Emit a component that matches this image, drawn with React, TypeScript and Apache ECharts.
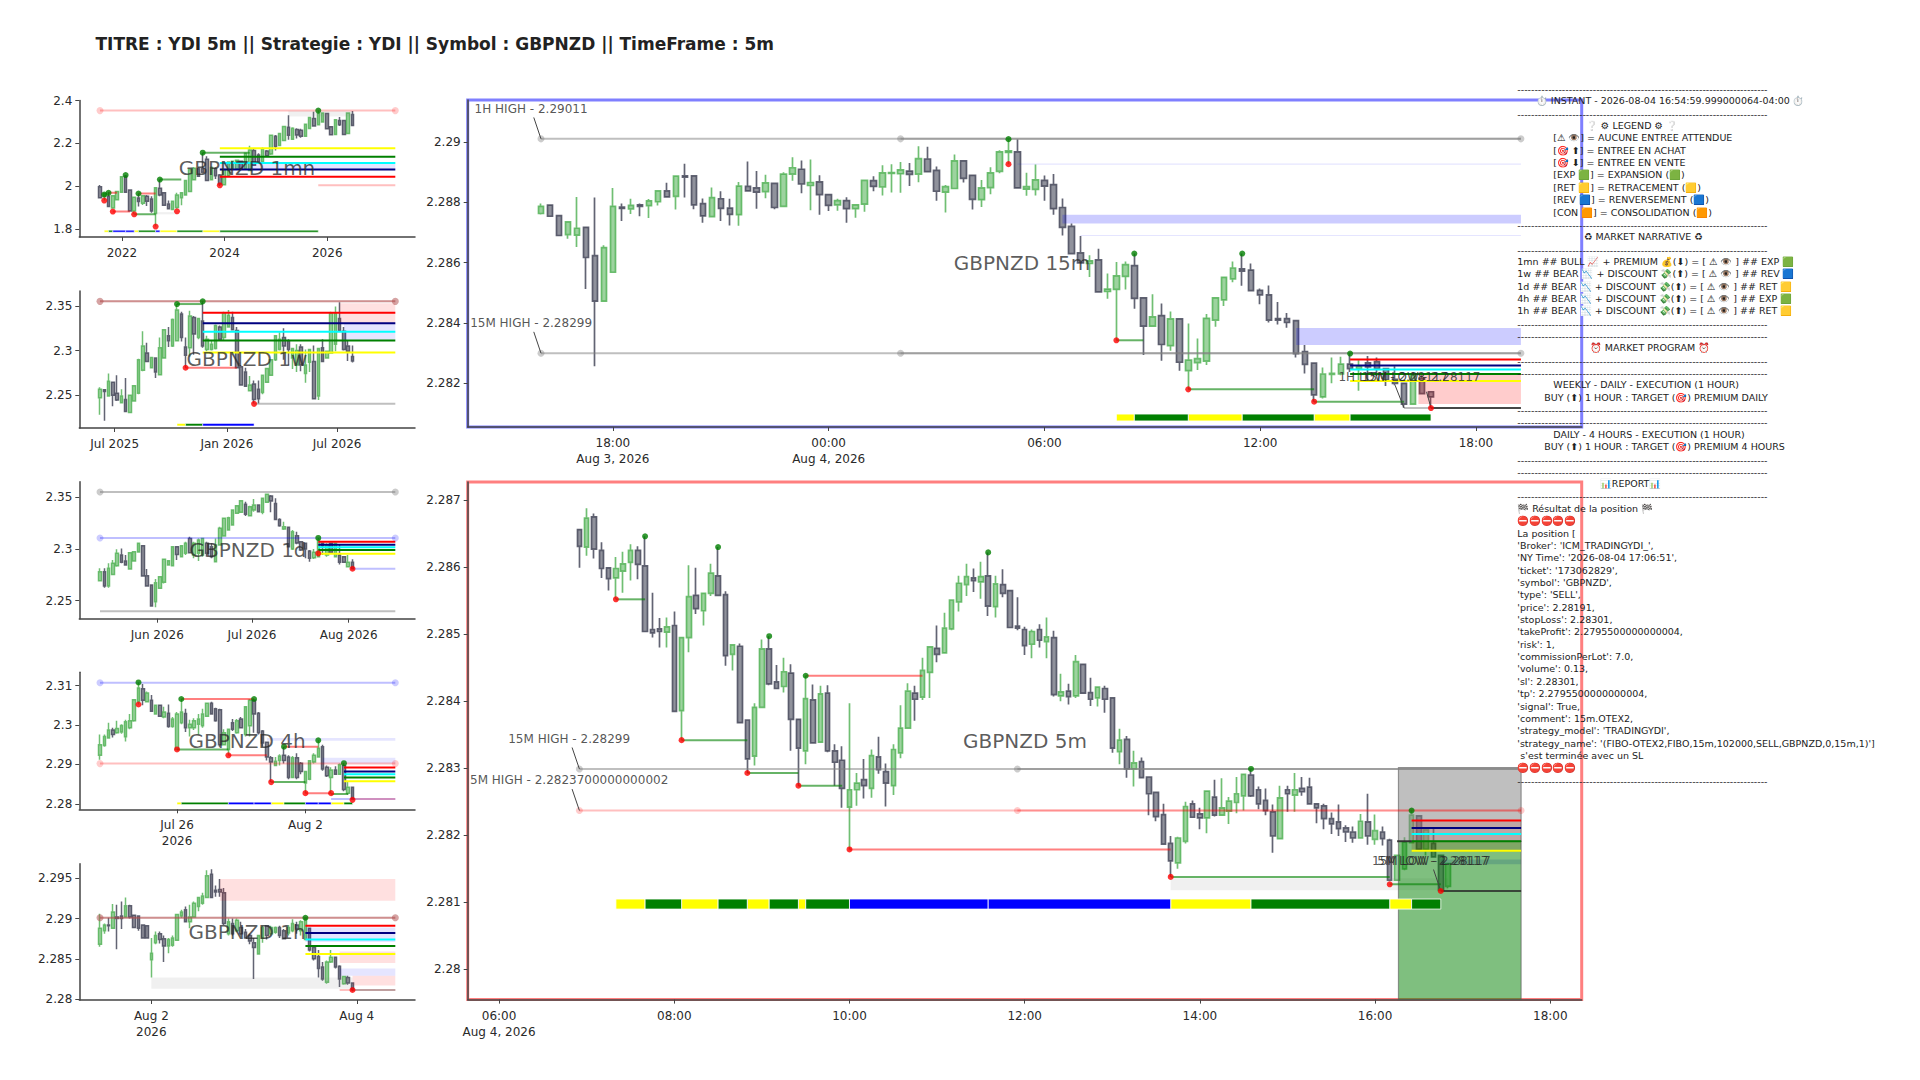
import React, { useEffect, useRef } from "react";
import * as echarts from "echarts";

const TITLE = "TITRE : YDI 5m || Strategie : YDI || Symbol : GBPNZD || TimeFrame : 5m";

// every candle is [open, close, low, high]
const candles1mn = [
[1.999,1.947,1.947,2.007],[1.954,1.967,1.934,1.967],[1.954,1.906,1.906,1.973],[1.899,1.957,1.896,1.960],[1.938,1.976,1.934,1.976],[1.973,2.045,1.973,2.045],[2.047,1.973,1.970,2.053],[1.983,1.886,1.883,1.986],[1.886,1.949,1.870,1.949],[1.946,1.930,1.906,1.967],
[1.922,1.957,1.914,1.960],[1.954,1.931,1.909,1.960],[1.941,1.886,1.877,1.954],[1.874,1.994,1.813,1.994],[1.992,1.960,1.954,2.032],[1.970,1.912,1.909,1.970],[1.918,1.896,1.896,1.934],[1.893,1.931,1.893,1.934],[1.902,1.960,1.896,1.970],[1.947,1.970,1.912,1.970],
[1.960,2.027,1.957,2.031],[1.976,2.079,1.973,2.082],[2.031,2.085,2.028,2.090],[2.082,2.047,2.044,2.088],[2.082,2.066,2.061,2.157],[2.127,2.027,2.024,2.140],[2.031,2.088,2.028,2.093],[2.082,2.050,2.034,2.088],[2.053,2.011,2.002,2.058],[2.008,2.079,2.005,2.082],
[2.050,2.114,2.047,2.117],[2.082,2.117,2.079,2.121],[2.082,2.122,2.079,2.125],[2.117,2.082,2.079,2.121],[2.082,2.154,2.079,2.157],[2.074,2.170,2.071,2.189],[2.167,2.098,2.095,2.175],[2.146,2.114,2.106,2.154],[2.114,2.175,2.111,2.181],[2.165,2.143,2.140,2.170],
[2.151,2.238,2.146,2.240],[2.234,2.186,2.167,2.239],[2.191,2.246,2.188,2.247],[2.214,2.279,2.210,2.283],[2.275,2.238,2.217,2.331],[2.220,2.271,2.217,2.275],[2.265,2.239,2.223,2.271],[2.262,2.233,2.226,2.268],[2.233,2.289,2.230,2.292],[2.270,2.321,2.267,2.324],
[2.316,2.281,2.278,2.348],[2.287,2.339,2.284,2.353],[2.300,2.342,2.297,2.345],[2.339,2.268,2.265,2.342],[2.278,2.241,2.238,2.281],[2.242,2.310,2.239,2.313],[2.307,2.287,2.281,2.323],[2.307,2.242,2.239,2.310],[2.246,2.342,2.243,2.345],[2.335,2.284,2.281,2.351],
];
const candles1w = [
[2.2472,2.2568,2.2280,2.2588],[2.2561,2.2542,2.2214,2.2561],[2.2492,2.2657,2.2492,2.2742],[2.2645,2.2499,2.2376,2.2645],[2.2522,2.2445,2.2434,2.2722],[2.2415,2.2492,2.2407,2.2568],[2.2453,2.2318,2.2318,2.2692],[2.2307,2.2499,2.2299,2.2499],[2.2434,2.2607,2.2426,2.2615],[2.2522,2.2896,2.2511,2.2907],
[2.2780,2.3050,2.2769,2.3215],[2.2973,2.2877,2.2869,2.3088],[2.2807,2.2923,2.2799,2.2930],[2.2915,2.2761,2.2692,2.2915],[2.2730,2.3030,2.2723,2.3146],[2.2915,2.3231,2.2907,2.3242],[2.3165,2.3108,2.3038,2.3262],[2.3050,2.3346,2.3038,2.3358],[2.3108,2.3454,2.3100,2.3520],[2.3408,2.3146,2.3100,2.3435],
[2.3038,2.2946,2.2807,2.3146],[2.3030,2.3385,2.2934,2.3446],[2.3369,2.3184,2.2954,2.3385],[2.3146,2.3358,2.3127,2.3365],[2.3331,2.3050,2.3030,2.3550],[2.3011,2.3127,2.2992,2.3165],[2.3011,2.3069,2.3000,2.3108],[2.3023,2.3281,2.3011,2.3292],[2.3262,2.3127,2.3115,2.3281],[2.3146,2.3423,2.3108,2.3435],
[2.3262,2.3396,2.3254,2.3454],[2.3369,2.3231,2.3223,2.3435],[2.3223,2.2807,2.2807,2.3262],[2.2819,2.2615,2.2615,2.2838],[2.2761,2.2599,2.2592,2.2807],[2.2549,2.2615,2.2541,2.2715],[2.2626,2.2453,2.2407,2.2665],[2.2568,2.2461,2.2407,2.2665],[2.2530,2.2722,2.2511,2.2730],[2.2645,2.2799,2.2638,2.2807],
[2.2722,2.2896,2.2715,2.2903],[2.2896,2.3165,2.2884,2.3173],[2.3011,2.3127,2.3000,2.3204],[2.3146,2.3050,2.2896,2.3250],[2.3108,2.3011,2.2838,2.3127],[2.2915,2.3023,2.2792,2.3030],[2.2838,2.3000,2.2761,2.3069],[2.3038,2.2838,2.2769,2.3069],[2.2742,2.2838,2.2638,2.3011],[2.2869,2.3011,2.2761,2.3019],
[2.2877,2.2461,2.2453,2.3057],[2.2492,2.3023,2.2445,2.3030],[2.3030,2.2877,2.2869,2.3127],[2.2915,2.2992,2.2907,2.3000],[2.2973,2.3416,2.2973,2.3435],[2.3069,2.3416,2.2992,2.3492],[2.3358,2.3223,2.3215,2.3539],[2.3215,2.3011,2.3000,2.3262],[2.3050,2.2992,2.2884,2.3108],[2.2934,2.2884,2.2865,2.3057],
];
const candles1d = [
[2.2692,2.2779,2.2689,2.2812],[2.2779,2.2640,2.2624,2.2812],[2.2640,2.2812,2.2624,2.2860],[2.2753,2.2860,2.2747,2.2892],[2.2837,2.2957,2.2828,2.2996],[2.2941,2.2870,2.2860,2.3005],[2.2883,2.2844,2.2837,2.2941],[2.2805,2.2963,2.2805,2.2967],[2.2883,2.2973,2.2876,2.2973],[2.2970,2.3054,2.2963,2.3060],
[2.3031,2.2737,2.2731,2.3038],[2.2741,2.2640,2.2634,2.2805],[2.2650,2.2447,2.2440,2.2650],[2.2489,2.2673,2.2434,2.2708],[2.2618,2.2731,2.2611,2.2737],[2.2676,2.2899,2.2666,2.2902],[2.2844,2.2886,2.2837,2.2892],[2.2837,2.3022,2.2831,2.3028],[2.3022,2.2947,2.2892,2.3028],[2.2925,2.3031,2.2918,2.3038],
[2.2957,2.3054,2.2941,2.3070],[2.3102,2.2963,2.2957,2.3118],[2.2941,2.3054,2.2909,2.3070],[2.2957,2.3086,2.2883,2.3102],[2.2941,2.3102,2.2925,2.3109],[2.3054,2.2957,2.2925,2.3070],[2.3022,2.2925,2.2909,2.3054],[2.2876,2.3038,2.2870,2.3102],[2.3038,2.3199,2.3031,2.3215],[2.3125,2.3296,2.3118,2.3303],
[2.3183,2.3303,2.3177,2.3312],[2.3232,2.3377,2.3225,2.3383],[2.3345,2.3419,2.3338,2.3425],[2.3354,2.3467,2.3348,2.3474],[2.3432,2.3335,2.3319,2.3458],[2.3322,2.3409,2.3315,2.3419],[2.3377,2.3425,2.3361,2.3483],[2.3425,2.3361,2.3354,2.3432],[2.3354,2.3490,2.3335,2.3496],[2.3451,2.3529,2.3445,2.3532],
[2.3513,2.3464,2.3354,2.3522],[2.3441,2.3286,2.3280,2.3490],[2.3286,2.3225,2.3215,2.3296],[2.3193,2.3215,2.3183,2.3264],[2.3209,2.3022,2.3015,2.3209],[2.2999,2.3167,2.2989,2.3183],[2.3128,2.3057,2.3044,2.3167],[2.3070,2.2989,2.2980,2.3076],[2.3054,2.2999,2.2909,2.3060],[2.2980,2.2909,2.2876,2.2989],
[2.2915,2.2967,2.2902,2.2999],[2.2925,2.3086,2.2925,2.3106],[2.3054,2.3031,2.2941,2.3060],[2.2941,2.3038,2.2925,2.3054],[2.3054,2.2967,2.2957,2.3054],[2.2925,2.3054,2.2918,2.3060],[2.2941,2.2870,2.2850,2.3038],[2.2925,2.2870,2.2863,2.2931],[2.2828,2.2870,2.2825,2.2941],[2.2870,2.2808,2.2802,2.2899],
];
const candles4h = [
[2.2923,2.2950,2.2912,2.2976],[2.2948,2.2971,2.2945,2.2976],[2.2967,2.2987,2.2965,2.3006],[2.2987,2.2976,2.2968,2.2993],[2.2980,2.2991,2.2978,2.3011],[2.2982,2.2999,2.2978,2.3002],[2.2970,2.3008,2.2958,2.3013],[2.2993,2.3011,2.2989,2.3028],[2.3011,2.3064,2.3008,2.3066],[2.3059,2.3094,2.3052,2.3108],
[2.3092,2.3063,2.3050,2.3104],[2.3059,2.3081,2.3057,2.3085],[2.3063,2.3035,2.3033,2.3076],[2.3028,2.3050,2.3026,2.3052],[2.3050,2.3022,2.3020,2.3052],[2.3020,2.3033,2.3017,2.3046],[2.3030,2.2996,2.2993,2.3052],[2.2996,2.3015,2.2993,2.3020],[2.2938,2.3028,2.2936,2.3033],[2.3006,2.3033,2.3002,2.3066],
[2.3029,2.2993,2.2982,2.3041],[2.2993,2.3002,2.2971,2.3013],[2.2993,2.3011,2.2987,2.3017],[2.3002,2.3015,2.2976,2.3028],[2.2998,2.3028,2.2993,2.3041],[2.3022,2.3055,2.3020,2.3056],[2.3055,2.3028,2.3026,2.3059],[2.3041,2.3011,2.3008,2.3044],[2.3039,2.2950,2.2945,2.3041],[2.2950,2.2980,2.2948,2.2989],
[2.2938,2.2989,2.2923,2.2991],[2.3006,2.2989,2.2985,2.3015],[2.2980,2.3011,2.2978,2.3015],[2.3015,2.2993,2.2991,2.3020],[2.2976,2.3046,2.2971,2.3048],[2.2998,2.3063,2.2971,2.3066],[2.3063,2.3028,2.2980,2.3066],[2.3030,2.2980,2.2976,2.3033],[2.2985,2.2954,2.2945,2.2987],[2.2956,2.2919,2.2910,2.2958],
[2.2917,2.2906,2.2855,2.2921],[2.2897,2.2908,2.2895,2.2919],[2.2910,2.2921,2.2897,2.2926],[2.2923,2.2910,2.2902,2.2945],[2.2919,2.2867,2.2862,2.2923],[2.2867,2.2917,2.2865,2.2921],[2.2917,2.2867,2.2862,2.2928],[2.2903,2.2882,2.2875,2.2906],[2.2853,2.2882,2.2827,2.2882],[2.2862,2.2909,2.2860,2.2910],
[2.2906,2.2923,2.2902,2.2928],[2.2919,2.2941,2.2917,2.2961],[2.2945,2.2888,2.2884,2.2950],[2.2893,2.2871,2.2868,2.2897],[2.2867,2.2886,2.2827,2.2893],[2.2886,2.2875,2.2873,2.2895],[2.2875,2.2899,2.2874,2.2902],[2.2897,2.2836,2.2832,2.2903],[2.2827,2.2842,2.2823,2.2858],[2.2842,2.2812,2.2810,2.2842],
];
const candles1h = [
[2.2868,2.2888,2.2865,2.2906],[2.2885,2.2892,2.2881,2.2894],[2.2892,2.2891,2.2884,2.2901],[2.2888,2.2908,2.2887,2.2918],[2.2902,2.2900,2.2862,2.2917],[2.2903,2.2900,2.2887,2.2921],[2.2902,2.2916,2.2901,2.2926],[2.2916,2.2902,2.2900,2.2917],[2.2904,2.2889,2.2888,2.2905],[2.2903,2.2888,2.2885,2.2904],
[2.2892,2.2876,2.2875,2.2893],[2.2891,2.2876,2.2875,2.2892],[2.2849,2.2857,2.2827,2.2876],[2.2870,2.2879,2.2868,2.2884],[2.2881,2.2874,2.2869,2.2884],[2.2875,2.2866,2.2846,2.2879],[2.2866,2.2874,2.2857,2.2876],[2.2867,2.2876,2.2865,2.2879],[2.2873,2.2905,2.2872,2.2906],[2.2903,2.2908,2.2901,2.2911],
[2.2911,2.2896,2.2896,2.2915],[2.2896,2.2902,2.2888,2.2917],[2.2902,2.2919,2.2901,2.2921],[2.2915,2.2926,2.2909,2.2926],[2.2919,2.2928,2.2917,2.2932],[2.2926,2.2953,2.2926,2.2960],[2.2955,2.2926,2.2926,2.2961],[2.2935,2.2933,2.2927,2.2941],[2.2936,2.2933,2.2927,2.2949],[2.2932,2.2894,2.2892,2.2938],
[2.2881,2.2896,2.2879,2.2900],[2.2894,2.2881,2.2879,2.2900],[2.2885,2.2898,2.2883,2.2900],[2.2889,2.2881,2.2879,2.2896],[2.2883,2.2876,2.2875,2.2887],[2.2879,2.2872,2.2868,2.2881],[2.2870,2.2864,2.2825,2.2876],[2.2856,2.2879,2.2855,2.2879],[2.2876,2.2889,2.2870,2.2891],[2.2891,2.2879,2.2874,2.2892],
[2.2881,2.2889,2.2879,2.2891],[2.2883,2.2889,2.2881,2.2890],[2.2889,2.2879,2.2876,2.2891],[2.2885,2.2875,2.2874,2.2887],[2.2882,2.2889,2.2879,2.2892],[2.2885,2.2894,2.2883,2.2899],[2.2892,2.2887,2.2881,2.2896],[2.2885,2.2896,2.2879,2.2898],[2.2874,2.2900,2.2873,2.2901],[2.2888,2.2861,2.2859,2.2889],
[2.2864,2.2850,2.2848,2.2866],[2.2853,2.2838,2.2827,2.2861],[2.2840,2.2825,2.2823,2.2846],[2.2821,2.2846,2.2819,2.2848],[2.2846,2.2852,2.2845,2.2861],[2.2852,2.2840,2.2838,2.2853],[2.2841,2.2825,2.2815,2.2842],[2.2819,2.2828,2.2818,2.2829],[2.2827,2.2820,2.2818,2.2829],[2.2820,2.2812,2.2810,2.2821],
];
const POINT = 0.00001; // the two large panels list prices in points
const candles15m = [
[228763,228787,228760,228796],[228791,228754,228752,228791],[228756,228690,228690,228756],[228693,228735,228679,228735],[228691,228714,228652,228818],[228717,228617,228512,228717],[228623,228472,228256,228816],[228472,228650,228472,228658],[228568,228787,228568,228848],[228784,228780,228738,228796],
[228778,228790,228761,228812],[228792,228787,228754,228796],[228789,228805,228748,228811],[228802,228838,228790,228841],[228838,228818,228816,228865],[228820,228887,228776,228889],[228888,228884,228816,228928],[228888,228792,228777,228888],[228796,228755,228732,228813],[228753,228816,228752,228849],
[228812,228780,228738,228837],[228781,228760,228723,228812],[228759,228854,228722,228868],[228853,228838,228836,228936],[228848,228834,228779,228904],[228836,228865,228814,228892],[228863,228783,228777,228865],[228787,228894,228785,228900],[228894,228915,228872,228950],[228910,228861,228830,228939],
[228856,228866,228774,228942],[228868,228826,228759,228890],[228826,228790,228771,228826],[228792,228806,228772,228812],[228806,228779,228732,228817],[228779,228792,228749,228794],[228794,228873,228769,228876],[228872,228853,228837,228887],[228851,228898,228823,228923],[228896,228899,228833,228927],
[228895,228908,228832,228934],[228904,228893,228854,228931],[228894,228945,228867,228986],[228944,228902,228899,228985],[228906,228837,228805,228919],[228834,228852,228766,228858],[228846,228938,228845,228959],[228938,228880,228866,228938],[228890,228810,228776,228890],[228809,228848,228785,228874],
[228849,228898,228827,228917],[228903,228968,228897,228973],[228966,228971,228927,229010],[228968,228848,228846,229010],[228844,228852,228822,228898],[228843,228875,228823,228926],[228873,228854,228805,228889],[228859,228779,228759,228894],[228783,228717,228690,228813],[228720,228630,228628,228730],
[228632,228599,228597,228688],[228597,228606,228552,228624],[228609,228503,228503,228646],[228504,228512,228480,228564],[228511,228556,228342,228602],[228554,228593,228511,228604],[228590,228481,228447,228630],[228483,228389,228293,228483],[228389,228420,228389,228495],[228424,228328,228274,228464],
[228324,228413,228307,228438],[228413,228269,228241,228413],[228241,228276,228179,228398],[228268,228281,228243,228348],[228273,228415,228260,228429],[228409,228483,228387,228483],[228476,228551,228456,228551],[228546,228582,228535,228604],[228579,228572,228523,228630],[228575,228507,228505,228597],
[228508,228493,228462,228514],[228493,228409,228401,228524],[228414,228409,228394,228469],[228414,228401,228384,228433],[228407,228298,228285,228407],[228304,228262,228232,228326],[228266,228161,228138,228266],[228154,228230,228149,228252],[228229,228232,228199,228285],[228230,228263,228226,228287],
[228263,228248,228237,228298],[228248,228256,228174,228276],[228267,228254,228210,228290],[228271,228248,228223,228285],[228248,228210,228190,228248],[228212,228199,228193,228256],[228199,228130,228119,228199],[228130,228226,228127,228232],[228215,228165,228163,228226],[228171,228154,228117,228171],
];
const candles5m = [
[228656,228631,228599,228656],[228630,228673,228617,228688],[228675,228627,228613,228680],[228625,228598,228584,228637],[228599,228583,228565,228599],[228584,228598,228552,228615],[228594,228605,228562,228623],[228607,228625,228580,228634],[228625,228604,228582,228631],[228602,228504,228503,228646],
[228507,228502,228495,228562],[228508,228504,228480,228524],[228503,228511,228480,228525],[228513,228385,228384,228534],[228386,228495,228342,228495],[228495,228556,228473,228603],[228558,228538,228530,228599],[228535,228561,228513,228561],[228561,228591,228557,228605],[228587,228558,228558,228630],
[228559,228468,228453,228564],[228470,228484,228446,228484],[228482,228368,228367,228486],[228372,228314,228293,228372],[228318,228391,228304,228397],[228391,228478,228390,228492],[228478,228426,228424,228497],[228429,228419,228418,228454],[228422,228444,228413,228465],[228442,228373,228326,228455],
[228373,228330,228274,228373],[228326,228404,228306,228438],[228402,228338,228337,228425],[228339,228411,228338,228423],[228412,228326,228324,228424],[228326,228309,228274,228336],[228312,228270,228241,228333],[228242,228268,228179,228397],[228268,228278,228244,228293],[228283,228274,228255,228314],
[228270,228319,228256,228328],[228317,228298,228292,228347],[228295,228278,228243,228307],[228274,228328,228260,228336],[228323,228360,228315,228394],[228360,228415,228359,228427],[228412,228403,228371,228423],[228406,228446,228402,228465],[228443,228481,228405,228481],[228479,228470,228458,228513],
[228472,228509,228471,228532],[228508,228551,228506,228551],[228548,228576,228534,228587],[228574,228586,228557,228605],[228584,228580,228563,228598],[228578,228586,228553,228608],[228587,228542,228527,228622],[228541,228575,228525,228587],[228574,228561,228555,228597],[228565,228510,228509,228565],
[228512,228509,228506,228555],[228507,228483,228469,228511],[228485,228504,228464,228507],[228507,228491,228480,228515],[228489,228496,228464,228525],[228495,228410,228407,228505],[228408,228414,228400,228441],[228415,228407,228395,228426],[228408,228459,228405,228469],[228455,228412,228411,228455],
[228413,228403,228393,228435],[228405,228421,228392,228422],[228419,228403,228383,228423],[228405,228330,228323,228405],[228325,228342,228306,228359],[228343,228299,228286,228348],[228299,228308,228273,228326],[228310,228286,228285,228316],[228287,228262,228230,228287],[228264,228228,228221,228264],
[228231,228187,228186,228247],[228188,228162,228138,228199],[228159,228196,228150,228198],[228191,228243,228188,228250],[228247,228227,228226,228252],[228232,228226,228209,228241],[228226,228266,228203,228267],[228257,228230,228228,228283],[228230,228241,228229,228285],[228236,228251,228217,228257],
[228249,228262,228233,228287],[228259,228291,228237,228292],[228290,228259,228257,228299],[228268,228247,228239,228273],[228252,228237,228230,228270],[228235,228199,228174,228246],[228195,228256,228195,228274],[228268,228262,228235,228274],[228260,228268,228235,228293],[228270,228265,228259,228287],
[228272,228247,228246,228286],[228247,228241,228218,228247],[228244,228225,228209,228247],[228225,228217,228202,228234],[228220,228210,228199,228246],[228211,228205,228190,228215],[228205,228196,228189,228213],[228196,228221,228195,228232],[228220,228199,228186,228262],[228194,228207,228186,228231],
[228205,228195,228185,228213],[228193,228133,228132,228195],[228133,228170,228133,228170],[228150,228190,228148,228197],[228189,228230,228188,228237],[228229,228179,228178,228230],[228179,228208,228170,228208],[228188,228168,228167,228210],[228170,228118,228117,228170],[228124,228158,228121,228158],
];

// levels: [kind, price, from bar, to bar]
const levels1mn = [["pink",2.353,0,69],["yellow",2.178,28,69],["green",2.138,28,69],["cyan",2.109,28,69],["navy",2.079,28,69],["red",2.045,28,69],["pink",2.005,51,69],["linkRed",1.970,2,4],["linkRed",1.883,3,7],["linkGreen",1.870,8,13],["linkRed",1.967,9,13],["linkGreen",2.032,14,19],["linkGreen",2.157,24,35]];
const levels1w = [["gray",2.355,0,69],["pink",2.355,0,69],["red",2.3423,24,69],["navy",2.3304,24,69],["cyan",2.3211,24,69],["green",2.3111,24,69],["yellow",2.2977,24,69],["gray",2.2403,36,69],["linkGreen",2.352,18,24],["linkRed",2.2807,20,32]];
const levels1d = [["gray",2.3551,0,69],["lav",2.3106,0,69],["gray",2.2395,0,69],["red",2.307,51,69],["navy",2.3041,51,69],["cyan",2.3015,51,69],["green",2.2989,51,69],["yellow",2.2954,51,69],["lav",2.2808,59,69]];
const levels4h = [["lav",2.3107,0,69],["pink",2.2902,0,69],["red",2.2892,57,69],["navy",2.2882,57,69],["cyan",2.2875,57,69],["green",2.2867,57,69],["yellow",2.2857,57,69],["lav",2.2812,54,69],["pink",2.2812,59,69],["linkRed",2.3066,19,36],["linkGreen",2.2938,18,30],["linkRed",2.2923,30,39],["linkGreen",2.2855,40,48],["linkRed",2.2945,43,51],["linkRed",2.2827,48,54],["linkGreen",2.2825,54,58]];
const levels1h = [["gray",2.2901,0,69],["pink",2.2901,0,69],["red",2.2891,48,69],["navy",2.2882,48,69],["cyan",2.2874,48,69],["green",2.2866,48,69],["yellow",2.2856,48,69],["pink",2.28114,56,69],["gray",2.28114,59,69]];
const levels15m = [["gray",2.29011,0,109],["gray",2.29011,40,109],["gray",2.28299,0,109],["gray",2.28299,40,109],["red",2.28278,90,109],["navy",2.28258,90,109],["cyan",2.28245,90,109],["green",2.2823,90,109],["yellow",2.28207,90,109],["gray",2.28117,96,109],["dark",2.28117,99,109],["linkGreen",2.28342,64,67],["linkGreen",2.28179,72,86],["linkGreen",2.28138,86,96]];
const levels5m = [["gray",2.28299,0,129],["gray",2.28299,60,129],["pink",2.28237,0,129],["pink",2.28237,60,129],["red",2.28222,114,129],["navy",2.28211,114,129],["cyan",2.28202,114,129],["green",2.28191,114,129],["yellow",2.28177,114,129],["dark",2.28117,118,129],["dark",2.28191,112,114],["linkGreen",2.28552,5,9],["linkGreen",2.28342,14,23],["linkGreen",2.28293,23,30],["linkGreen",2.28274,30,36],["linkGreen",2.28138,81,111],["linkGreen",2.28127,111,118],["linkRed",2.28438,31,47],["linkRed",2.28179,37,81]];

// level end dots: [kind, price, bar]
const dots1mn = [["pink",2.353,0],["pink",2.353,69]];
const dots1w = [["gray",2.355,0],["pink",2.355,0],["gray",2.355,69],["pink",2.355,69]];
const dots1d = [["gray",2.3551,0],["gray",2.3551,69],["lav",2.3106,0],["lav",2.3106,69]];
const dots4h = [["lav",2.3107,0],["lav",2.3107,69],["pink",2.2902,0],["pink",2.2902,69]];
const dots1h = [["gray",2.2901,0],["pink",2.2901,0],["gray",2.2901,69],["pink",2.2901,69]];
const dots15m = [["gray",2.29011,0],["gray",2.29011,40],["gray",2.29011,109],["gray",2.28299,0],["gray",2.28299,40],["gray",2.28299,109]];
const dots5m = [["gray",2.28299,0],["gray",2.28299,60],["pink",2.28237,0],["pink",2.28237,60],["pink",2.28237,129]];

// zones: [kind, from bar, to bar, low, high]
const zones1mn = [["lav",28,69,2.079,2.104],["grey",44,59,2.326,2.352],["grey",13,18,1.87,1.88]];
const zones1w = [["pink",56,69,2.3307,2.353],["lav",57,69,2.3115,2.3307]];
const zones1d: any[] = [];
const zones4h = [["lav",39,69,2.296,2.2967],["lav",52,69,2.2902,2.2917]];
const zones1h = [["pink",28,69,2.2922,2.2949],["grey",12,59,2.2813,2.2827],["lav",48,69,2.2871,2.2889],["pink",56,69,2.2845,2.2859],["lav",56,69,2.2829,2.2838],["pink",59,69,2.2817,2.2829]];
const zones15m = [["lavStrong",58,109,2.2873,2.28759],["lav",60,109,2.28688,2.28692],["lav",53,109,2.28925,2.28929],["lavStrong",84,109,2.28326,2.28383],["pinkStrong",97.6,109,2.2813,2.2823]];
const zones5m = [["grey",81,119,2.28118,2.28136],["pinkStrong",114,129,2.28175,2.28222],["lavStrong",118,129,2.28157,2.28164],["sl",112.2,129,2.28191,2.28301],["tp",112.2,129,2.27955,2.28191]];

// trend strip: [kind, from bar, to bar]
const strip1mn = [["yellow",1,2],["green",2,3],["blue",3,6],["blue",6,8],["yellow",8,9],["green",9,13],["blue",13,14],["yellow",14,18],["green",18,24],["yellow",24,28],["green",28,51]];
const strip1w = [["yellow",18,20],["green",20,24],["blue",24,36]];
const strip1d: any[] = [];
const strip4h = [["yellow",18,19],["green",19,30],["blue",30,36],["blue",36,40],["yellow",40,43],["green",43,48],["blue",48,51],["blue",51,54],["yellow",54,57],["green",57,59]];
const strip1h: any[] = [];
const strip15m = [["yellow",64,66],["green",66,72],["yellow",72,78],["green",78,86],["yellow",86,90],["green",90,99]];
const strip5m = [["yellow",5,9],["green",9,14],["yellow",14,19],["green",19,23],["yellow",23,26],["green",26,30],["yellow",30,31],["green",31,37],["blue",37,56],["blue",56,81],["yellow",81,92],["green",92,111],["yellow",111,114],["green",114,118]];
const bands = { m1: [1.787, 1.796], w1: [2.2156, 2.2183], d1: [2.23, 2.231], h4: [2.2798, 2.2804], h1: [2.28, 2.2801], m15: [2.28074, 2.28097], m5: [2.2809, 2.28105] };

// swing points: [bar, price]
const highs1mn = [[1,1.962],[2,1.970],[6,2.053],[9,1.967],[14,2.032],[24,2.157],[51,2.353]];
const lows1mn = [[1,1.934],[3,1.883],[8,1.870],[13,1.813],[18,1.884],[28,2.005]];
const highs1w = [[18,2.352],[24,2.355]];
const lows1w = [[20,2.2807],[36,2.2403]];
const highs1d = [[51,2.3106]];
const lows1d = [[51,2.2957],[59,2.2808]];
const highs4h = [[9,2.3108],[19,2.3066],[36,2.3066],[43,2.2945],[51,2.2961],[57,2.2903]];
const lows4h = [[9,2.3052],[18,2.2938],[30,2.2923],[40,2.2855],[48,2.2827],[54,2.2827],[59,2.281]];
const highs1h = [[48,2.2901]];
const lows1h = [[59,2.28114]];
const highs15m = [[52,2.2901],[66,2.2863],[78,2.2863],[90,2.28298]];
const lows15m = [[52,2.28927],[64,2.28342],[72,2.28179],[86,2.28138],[99,2.28117]];
const highs5m = [[9,2.28646],[19,2.2863],[26,2.28497],[31,2.28438],[56,2.28622],[92,2.28299],[114,2.28237]];
const lows5m = [[5,2.28552],[14,2.28342],[23,2.28293],[30,2.28274],[37,2.28179],[81,2.28138],[111,2.28127],[118,2.28117]];

// annotations: [text, bar, price] and their leaders: [bar, price, bar, price]
const notes15m = [["1H HIGH - 2.29011",-1.1,2.29111],["15M HIGH - 2.28299",-1.1,2.284],["1H LOW - 2.28117",94.8,2.28219],["15M LOW - 2.28117",97.9,2.28219]];
const leaders15m = [[-0.8,2.29082,0,2.29011],[-0.8,2.2837,0,2.28299],[95,2.28193,96,2.28117],[98.5,2.28171,99,2.28117]];
const notes5m = [["15M HIGH - 2.28299",-1.4,2.28344],["5M HIGH - 2.2823700000000002",-1.4,2.28283],["15M LOW - 2.28117",116.7,2.28161],["5M LOW - 2.28117",116.9,2.28161]];
const leaders5m = [[-1,2.28331,0,2.28299],[-1,2.28269,0,2.28237],[117,2.28149,118,2.28117]];

const xTicks1mn = [5.14,29.1,53.1]; const xLabels1mn = ["2022","2024","2026"];
const xTicks1w = [3.43,29.65,55.4]; const xLabels1w = ["Jul 2025","Jan 2026","Jul 2026"];
const xTicks1d = [13.4,35.5,58.1]; const xLabels1d = ["Jun 2026","Jul 2026","Aug 2026"];
const xTicks4h = [18,48]; const xLabels4h = ["Jul 26\n2026","Aug 2"];
const xTicks1h = [12,60]; const xLabels1h = ["Aug 2\n2026","Aug 4"];
const xTicks15m = [8,32,56,80,104]; const xLabels15m = ["18:00\nAug 3, 2026","00:00\nAug 4, 2026","06:00","12:00","18:00"];
const xTicks5m = [-11,13,37,61,85,109,133]; const xLabels5m = ["06:00\nAug 4, 2026","08:00","10:00","12:00","14:00","16:00","18:00"];
const yTicks1mn = [1.8,2,2.2,2.4];
const yTicks1w = [2.25,2.3,2.35];
const yTicks1d = [2.25,2.3,2.35];
const yTicks4h = [2.28,2.29,2.3,2.31];
const yTicks1h = [2.28,2.285,2.29,2.295];
const yTicks15m = [2.282,2.284,2.286,2.288,2.29];
const yTicks5m = [2.28,2.281,2.282,2.283,2.284,2.285,2.286,2.287];

const DASH = "-".repeat(73);
const STOP = "⛔⛔⛔⛔⛔";
const legendTexts = [
DASH,"⏱ INSTANT - 2026-08-04 16:54:59.999000064-04:00 ⏱",DASH,"❔ ⚙ LEGEND ⚙ ❔","[⚠ 👁] = AUCUNE ENTREE ATTENDUE","[🎯 ⬆] = ENTREE EN ACHAT","[🎯 ⬇] = ENTREE EN VENTE","[EXP 🟩] = EXPANSION (🟩)","[RET 🟨] = RETRACEMENT (🟨)","[REV 🟦] = RENVERSEMENT (🟦)","[CON 🟧] = CONSOLIDATION (🟧)",DASH,"♻ MARKET NARRATIVE ♻",DASH,
"1mn ## BULL 📈 + PREMIUM 💰(⬇) = [ ⚠ 👁 ] ## EXP 🟩","1w ## BEAR 📉 + DISCOUNT 💸(⬆) = [ ⚠ 👁 ] ## REV 🟦","1d ## BEAR 📉 + DISCOUNT 💸(⬆) = [ ⚠ 👁 ] ## RET 🟨","4h ## BEAR 📉 + DISCOUNT 💸(⬆) = [ ⚠ 👁 ] ## EXP 🟩","1h ## BEAR 📉 + DISCOUNT 💸(⬆) = [ ⚠ 👁 ] ## RET 🟨",DASH,DASH,"⏰ MARKET PROGRAM ⏰",DASH,DASH,
"WEEKLY - DAILY - EXECUTION (1 HOUR)","BUY (⬆) 1 HOUR : TARGET (🎯) PREMIUM DAILY",DASH,DASH,"DAILY - 4 HOURS - EXECUTION (1 HOUR)","BUY (⬆) 1 HOUR : TARGET (🎯) PREMIUM 4 HOURS",DASH,DASH,"📊REPORT📊",DASH,
"🏁 Résultat de la position 🏁",STOP,"La position [","'Broker': 'ICM_TRADINGYDI_',","'NY Time': '2026-08-04 17:06:51',","'ticket': '173062829',","'symbol': 'GBPNZD',","'type': 'SELL',","'price': 2.28191,","'stopLoss': 2.28301,","'takeProfit': 2.2795500000000004,","'risk': 1,","'commissionPerLot': 7.0,","'volume': 0.13,","'sl': 2.28301,","'tp': 2.2795500000000004,","'signal': True,","'comment': 15m.OTEX2,","'strategy_model': 'TRADINGYDI',","'strategy_name': '(FIBO-OTEX2,FIBO,15m,102000,SELL,GBPNZD,0,15m,1)']"," s'est terminée avec un SL",STOP,DASH,
];
const legendY = [89,100.7,114.3,125.7,137.7,150.7,162.7,174.7,187.7,199.7,212.7,225,236.7,250,261.7,273.7,286.7,298.7,310.7,324.3,336.3,347.7,361.3,373.3,384.7,397.7,410,422,434.7,446.7,460,472,483.7,496.7,508.7,520.7,533.7,545.7,557.7,570.3,582.7,594.7,607.3,619.7,631.7,644.7,656.7,668.7,681.7,693.7,706.7,718.7,730.7,743.7,755.7,767.7,781];
const legendX = [1517.3,1536,1517.3,1586,1553.3,1553.3,1553.3,1553.3,1553.3,1553.3,1553.3,1517.3,1584,1517.3,1517.3,1517.3,1517.3,1517.3,1517.3,1517.3,1517.3,1590,1517.3,1517.3,1553.3,1544.3,1517.3,1517.3,1553.3,1544.3,1517.3,1517.3,1600,1517.3].concat(new Array(23).fill(1517.3));

const FONT = "'DejaVu Sans', 'Noto Color Emoji', 'Noto Sans CJK SC', sans-serif";
const LINE: any = {
  red: ["#ff0000", 2], navy: ["#000080", 2], cyan: ["#00ffff", 2], green: ["#008000", 2], yellow: ["#ffff00", 2],
  gray: ["rgba(128,128,128,0.5)", 2], pink: ["rgba(255,0,0,0.25)", 2], lav: ["rgba(0,0,255,0.25)", 2], dark: ["rgba(40,40,40,0.8)", 2],
  linkGreen: ["rgba(0,128,0,0.6)", 2], linkRed: ["rgba(255,0,0,0.5)", 2],
};
const ZONE: any = {
  pink: "rgba(255,0,0,0.12)", lav: "rgba(0,0,255,0.1)", grey: "rgba(128,128,128,0.12)",
  pinkStrong: "rgba(255,0,0,0.2)", lavStrong: "rgba(0,0,255,0.2)", sl: "rgba(128,128,128,0.5)", tp: "rgba(0,128,0,0.5)",
};
const STRIP: any = { yellow: "#ffff00", green: "#008000", blue: "#0000ff" };

const PANELS: any[] = [
  { name: "GBPNZD 1mn", nx: 247, ny: 167.7, candles: candles1mn, levels: levels1mn, dots: dots1mn, zones: zones1mn, strip: strip1mn, band: bands.m1, highs: highs1mn, lows: lows1mn, xt: xTicks1mn, xl: xLabels1mn, yt: yTicks1mn, min: 1.7645, max: 2.4, top: 100.5, bottom: 237 },
  { name: "GBPNZD 1w", nx: 247, ny: 358.8, candles: candles1w, levels: levels1w, dots: dots1w, zones: zones1w, strip: strip1w, band: bands.w1, highs: highs1w, lows: lows1w, xt: xTicks1w, xl: xLabels1w, yt: yTicks1w, min: 2.2133, max: 2.3666, top: 291, bottom: 428 },
  { name: "GBPNZD 1d", nx: 248, ny: 550, candles: candles1d, levels: levels1d, dots: dots1d, zones: zones1d, strip: strip1d, band: bands.d1, highs: highs1d, lows: lows1d, xt: xTicks1d, xl: xLabels1d, yt: yTicks1d, min: 2.2324, max: 2.3651, top: 481.7, bottom: 618.7 },
  { name: "GBPNZD 4h", nx: 247, ny: 740.8, candles: candles4h, levels: levels4h, dots: dots4h, zones: zones4h, strip: strip4h, band: bands.h4, highs: highs4h, lows: lows4h, xt: xTicks4h, xl: xLabels4h, yt: yTicks4h, min: 2.2786, max: 2.3134, top: 672.2, bottom: 809.3 },
  { name: "GBPNZD 1h", nx: 247, ny: 932, candles: candles1h, levels: levels1h, dots: dots1h, zones: zones1h, strip: strip1h, band: bands.h1, highs: highs1h, lows: lows1h, xt: xTicks1h, xl: xLabels1h, yt: yTicks1h, min: 2.2799, max: 2.2968, top: 863.7, bottom: 1000 },
  { name: "GBPNZD 15m", nx: 1022, ny: 263, big: true, frame: "rgba(0,0,255,0.5)", scale: POINT, candles: candles15m, levels: levels15m, dots: dots15m, zones: zones15m, strip: strip15m, band: bands.m15, highs: highs15m, lows: lows15m, notes: notes15m, leaders: leaders15m, xt: xTicks15m, xl: xLabels15m, yt: yTicks15m, min: 2.28054, max: 2.2914, xMin: -8.15, xMax: 115.76, top: 100, bottom: 427, barW: 6 },
  { name: "GBPNZD 5m", nx: 1025, ny: 740.7, big: true, frame: "rgba(255,0,0,0.5)", scale: POINT, candles: candles5m, levels: levels5m, dots: dots5m, zones: zones5m, strip: strip5m, band: bands.m5, highs: highs5m, lows: lows5m, notes: notes5m, leaders: leaders5m, xt: xTicks5m, xl: xLabels5m, yt: yTicks5m, min: 2.27955, max: 2.28727, xMin: -15.3, xMax: 137.3, top: 482, bottom: 999.6, barW: 5 },
];

function rectRender(fill: string, stroke?: string, lineWidth = 0) {
  return (_: any, api: any) => {
    const a = api.coord([api.value(0), api.value(2)]);
    const b = api.coord([api.value(1), api.value(3)]);
    return {
      type: "rect",
      shape: { x: Math.min(a[0], b[0]), y: Math.min(a[1], b[1]), width: Math.abs(b[0] - a[0]), height: Math.abs(b[1] - a[1]) },
      style: { fill, stroke, lineWidth },
    };
  };
}

function buildOption() {
  const grid: any[] = [], xAxis: any[] = [], yAxis: any[] = [], series: any[] = [], graphic: any[] = [];
  PANELS.forEach((p, g) => {
    const left = p.big ? 467.7 : 79.3, right = p.big ? 1581.7 : 415;
    grid.push({
      left, top: p.top, width: right - left, height: p.bottom - p.top,
      show: !!p.frame, borderColor: p.frame || "transparent", borderWidth: p.frame ? 3 : 0, backgroundColor: "transparent",
    });
    const axisStyle = { show: true, lineStyle: { color: "#444", width: 1.5 } };
    const fmt = new Map(p.xt.map((v: number, i: number) => [v, p.xl[i]]));
    xAxis.push({
      type: "value", gridIndex: g, min: p.big ? p.xMin : -4.83, max: p.big ? p.xMax : 73.6,
      splitLine: { show: false }, axisLine: { ...axisStyle, onZero: false },
      axisTick: { show: true, length: 4, customValues: p.xt, lineStyle: { color: "#444" } },
      axisLabel: { customValues: p.xt, formatter: (v: number) => fmt.get(v) ?? "", color: "#2a2a2a", fontFamily: FONT, fontSize: 12, lineHeight: 16, margin: 8, showMinLabel: true, showMaxLabel: true },
    });
    yAxis.push({
      type: "value", gridIndex: g, min: p.min, max: p.max,
      splitLine: { show: false }, axisLine: { ...axisStyle, onZero: false },
      axisTick: { show: true, length: 4, customValues: p.yt, lineStyle: { color: "#444" } },
      axisLabel: { customValues: p.yt, formatter: (v: number) => String(v), color: "#2a2a2a", fontFamily: FONT, fontSize: 12, margin: 7, showMinLabel: true, showMaxLabel: true },
    });
    const k = p.scale || 1;
    const ax = { xAxisIndex: g, yAxisIndex: g };
    series.push({
      type: "candlestick", ...ax, z: 2, clip: false, barWidth: p.barW || 3,
      encode: { x: 0, y: [1, 2, 3, 4] },
      data: p.candles.map((c: number[], i: number) => [i, c[0] * k, c[1] * k, c[2] * k, c[3] * k]),
      itemStyle: {
        color: "rgba(76,175,80,0.55)", borderColor: "rgba(76,175,80,0.8)",
        color0: "rgba(70,73,90,0.6)", borderColor0: "rgba(70,73,90,0.85)", borderWidth: p.big ? 1.7 : 1.5,
      },
    });
    // zones
    for (const kind of Object.keys(ZONE)) {
      const rows = p.zones.filter((z: any[]) => z[0] === kind);
      if (!rows.length) continue;
      const edge = kind === "sl" || kind === "tp" ? "rgba(90,90,90,0.6)" : undefined;
      series.push({
        type: "custom", ...ax, z: 3, silent: true, encode: { x: [0, 1], y: [2, 3] },
        renderItem: rectRender(ZONE[kind], edge, edge ? 1.2 : 0),
        data: rows.map((z: any[]) => [z[1], z[2], z[3], z[4]]),
      });
    }
    // strip
    for (const kind of Object.keys(STRIP)) {
      const rows = p.strip.filter((s: any[]) => s[0] === kind);
      if (!rows.length) continue;
      series.push({
        type: "custom", ...ax, z: 3, silent: true, encode: { x: [0, 1], y: [2, 3] },
        renderItem: rectRender(STRIP[kind], "#ffffff", p.big ? 0.8 : 0.5),
        data: rows.map((s: any[]) => [s[1], s[2], p.band[0], p.band[1]]),
      });
    }
    // levels
    p.levels.forEach((l: any[]) => {
      const [color, width] = LINE[l[0]];
      series.push({
        type: "line", ...ax, z: 4, silent: true, showSymbol: false, symbol: "none", animation: false,
        lineStyle: { color, width },
        data: [[l[2], l[1]], [l[3], l[1]]],
      });
    });
    // end dots
    for (const kind of ["gray", "pink", "lav"]) {
      const rows = p.dots.filter((d: any[]) => d[0] === kind);
      if (!rows.length) continue;
      series.push({
        type: "scatter", ...ax, z: 5, silent: true, symbolSize: 7,
        itemStyle: { color: LINE[kind][0] },
        data: rows.map((d: any[]) => [d[2], d[1]]),
      });
    }
    series.push({ type: "scatter", ...ax, z: 6, silent: true, symbolSize: 6, itemStyle: { color: "#008000" }, data: p.highs });
    series.push({ type: "scatter", ...ax, z: 6, silent: true, symbolSize: 6, itemStyle: { color: "#ff0000" }, data: p.lows });
    (p.leaders || []).forEach((l: number[]) => {
      series.push({
        type: "line", ...ax, z: 6, silent: true, showSymbol: false, symbol: "none",
        lineStyle: { color: "#444", width: 1 },
        data: [[l[0], l[1]], [l[2], l[3]]],
      });
    });
    (p.notes || []).forEach((n: any[]) => {
      series.push({
        type: "scatter", ...ax, z: 7, silent: true, symbolSize: 0, data: [[n[1], n[2]]],
        label: { show: true, position: "inside", formatter: () => n[0], color: "#2a2a2a", fontFamily: FONT, fontSize: 12 },
      });
    });
    graphic.push({
      type: "text", x: p.nx, y: p.ny, z: 20, silent: true,
      style: { text: p.name, fill: "rgba(40,40,40,0.75)", font: `20px ${FONT}`, textAlign: "center", textVerticalAlign: "middle" },
    });
  });
  graphic.push({
    type: "text", x: 95.5, y: 44, z: 20, silent: true,
    style: { text: TITLE, fill: "#222", font: `bold 17px ${FONT}`, textVerticalAlign: "middle" },
  });
  legendTexts.forEach((t, i) => {
    graphic.push({
      type: "text", x: legendX[i], y: legendY[i], z: 21, silent: true,
      style: { text: t, fill: "#222", font: `9.5px ${FONT}`, textVerticalAlign: "middle" },
    });
  });
  return { animation: false, backgroundColor: "#ffffff", grid, xAxis, yAxis, series, graphic };
}

export default function App() {
  const ref = useRef<HTMLDivElement>(null);
  useEffect(() => {
    const chart = echarts.init(ref.current!, undefined, { renderer: "svg" });
    chart.setOption(buildOption() as any);
    return () => chart.dispose();
  }, []);
  return <div ref={ref} style={{ position: "fixed", left: 0, top: 0, width: 1920, height: 1080, background: "#fff" }} />;
}
